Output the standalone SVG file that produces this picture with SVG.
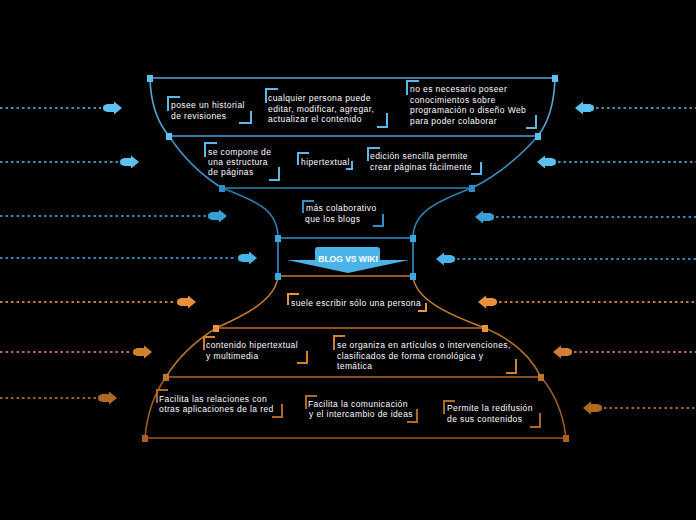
<svg xmlns="http://www.w3.org/2000/svg" xmlns:xlink="http://www.w3.org/1999/xlink" width="696" height="520" viewBox="0 0 696 520">
<style>
.t{fill:#ffffff;font-family:"Liberation Sans","DejaVu Sans",sans-serif;font-size:8.5px;letter-spacing:0.4px}
.b{fill:none;stroke-width:2}
.c{fill:none;stroke-width:1.6}
.d{fill:none;stroke-width:2;stroke-dasharray:2.5 3}
</style>
<defs>
<g id="arR"><circle cx="3.5" cy="0" r="3.5"/><path d="M3.5,-4 L11,-4 L11,-6.5 L19,0 L11,6.5 L11,4 L3.5,4 Z"/></g>
</defs>
<rect width="696" height="520" fill="#000000"/>
<g id="connectors">
<path class="c" stroke="#5aa6d0" d="M150,78 H555"/>
<path class="c" stroke="#5aa6d0" d="M150,78 Q151,115 169,136"/>
<path class="c" stroke="#5aa6d0" d="M555,78 Q554,115 538,136"/>
<path class="c" stroke="#4a9fd0" d="M169,136 H538"/>
<path class="c" stroke="#3d90c0" d="M169,136 Q190,168 222,188"/>
<path class="c" stroke="#3d90c0" d="M538,136 Q508,170 472,188"/>
<path class="c" stroke="#2e7fb0" d="M222,188 H472"/>
<path class="c" stroke="#2e7fb0" d="M222,188 C262,203 278,212 278,238"/>
<path class="c" stroke="#2e7fb0" d="M472,188 C432,203 413,214 413,238"/>
<path class="c" stroke="#3590c8" d="M278,238 H413 M278,238 V276 M413,238 V276"/>
<path class="c" stroke="#c47a30" d="M278,276 H413"/>
<path class="c" stroke="#c47a30" d="M278,276 C276,300 245,315 216,328"/>
<path class="c" stroke="#c47a30" d="M413,276 C415,300 450,315 485,328"/>
<path class="c" stroke="#b87028" d="M216,328 H485"/>
<path class="c" stroke="#b07028" d="M216,328 Q182,350 166,377"/>
<path class="c" stroke="#b07028" d="M485,328 Q525,345 541,377"/>
<path class="c" stroke="#a86a28" d="M166,377 H541"/>
<path class="c" stroke="#9a5e20" d="M166,377 Q148,402 145,438"/>
<path class="c" stroke="#9a5e20" d="M541,377 Q562,402 566,438"/>
<path class="c" stroke="#9a5e20" d="M145,438 H566"/>
<g id="squares">
<rect x="147" y="75" width="6" height="7" fill="#5cc0f0"/>
<rect x="552" y="75" width="6" height="7" fill="#5cc0f0"/>
<rect x="166" y="133" width="6" height="7" fill="#5cc0f0"/>
<rect x="535" y="133" width="6" height="7" fill="#5cc0f0"/>
<rect x="219" y="185" width="6" height="7" fill="#2f8fc4"/>
<rect x="469" y="185" width="6" height="7" fill="#2f8fc4"/>
<rect x="275" y="235" width="6" height="7" fill="#3aa8e0"/>
<rect x="410" y="235" width="6" height="7" fill="#3aa8e0"/>
<rect x="275" y="273" width="6" height="7" fill="#3aa8e0"/>
<rect x="410" y="273" width="6" height="7" fill="#3aa8e0"/>
<rect x="213" y="325" width="6" height="7" fill="#e8943a"/>
<rect x="482" y="325" width="6" height="7" fill="#e8943a"/>
<rect x="163" y="374" width="6" height="7" fill="#c07528"/>
<rect x="538" y="374" width="6" height="7" fill="#c07528"/>
<rect x="142" y="435" width="6" height="7" fill="#a85e1c"/>
<rect x="563" y="435" width="6" height="7" fill="#a85e1c"/>
</g>
<g id="side-arrows">
<path class="d" stroke="#3d8fb5" d="M0,108 H101"/>
<use xlink:href="#arR" transform="translate(103,108)" fill="#5cc0f0"/>
<path class="d" stroke="#3d8fb5" d="M596,108 H696"/>
<use xlink:href="#arR" transform="translate(594,108) scale(-1,1)" fill="#5cc0f0"/>
<path class="d" stroke="#3d8fb5" d="M0,162 H118"/>
<use xlink:href="#arR" transform="translate(120,162)" fill="#5cc0f0"/>
<path class="d" stroke="#3d8fb5" d="M558,162 H696"/>
<use xlink:href="#arR" transform="translate(556,162) scale(-1,1)" fill="#5cc0f0"/>
<path class="d" stroke="#2a86b8" d="M0,216 H206"/>
<use xlink:href="#arR" transform="translate(208,216)" fill="#38a0d8"/>
<path class="d" stroke="#2a86b8" d="M496,217 H696"/>
<use xlink:href="#arR" transform="translate(494,217) scale(-1,1)" fill="#38a0d8"/>
<path class="d" stroke="#2a86b8" d="M0,258 H236"/>
<use xlink:href="#arR" transform="translate(238,258)" fill="#4ab4e8"/>
<path class="d" stroke="#2a86b8" d="M457,259 H696"/>
<use xlink:href="#arR" transform="translate(455,259) scale(-1,1)" fill="#4ab4e8"/>
<path class="d" stroke="#c87a30" d="M0,302 H175"/>
<use xlink:href="#arR" transform="translate(177,302)" fill="#e8913a"/>
<path class="d" stroke="#c87a30" d="M499,302 H696"/>
<use xlink:href="#arR" transform="translate(497,302) scale(-1,1)" fill="#e8913a"/>
<path class="d" stroke="#b87030" d="M0,352 H131"/>
<use xlink:href="#arR" transform="translate(133,352)" fill="#d08030"/>
<path class="d" stroke="#b87030" d="M574,352 H696"/>
<use xlink:href="#arR" transform="translate(572,352) scale(-1,1)" fill="#d08030"/>
<path class="d" stroke="#a06020" d="M0,398 H96"/>
<use xlink:href="#arR" transform="translate(98,398)" fill="#b06a20"/>
<path class="d" stroke="#a06020" d="M604,408 H696"/>
<use xlink:href="#arR" transform="translate(602,408) scale(-1,1)" fill="#b06a20"/>
</g>
</g>
<g id="n-historial">
<path class="b" stroke="#5cb8e8" d="M168,111 V97 H180 M239,123 H251 V111"/>
<text class="t" x="171" y="108">posee un historial</text>
<text class="t" x="171" y="119">de revisiones</text>
</g>
<g id="n-cualquier">
<path class="b" stroke="#5cb8e8" d="M266,103 V89 H278 M377,127 H387 V113"/>
<text class="t" x="268" y="101">cualquier persona puede</text>
<text class="t" x="268" y="111.5">editar, modificar, agregar,</text>
<text class="t" x="268" y="122">actualizar el contenido</text>
</g>
<g id="n-noes">
<path class="b" stroke="#5cb8e8" d="M407,95 V81 H419 M526,128 H536 V115"/>
<text class="t" x="410" y="92">no es necesario poseer</text>
<text class="t" x="410" y="102.5">conocimientos sobre</text>
<text class="t" x="410" y="113">programación o diseño Web</text>
<text class="t" x="410" y="123.5">para poder colaborar</text>
</g>
<g id="n-compone">
<path class="b" stroke="#5cb8e8" d="M205,157 V143 H217 M269,180 H279 V167"/>
<text class="t" x="208" y="155">se compone de</text>
<text class="t" x="208" y="165">una estructura</text>
<text class="t" x="208" y="175">de páginas</text>
</g>
<g id="n-hipertextual">
<path class="b" stroke="#5cb8e8" d="M298,165 V153 H309 M346,169 H352 V161"/>
<text class="t" x="301" y="165">hipertextual</text>
</g>
<g id="n-edicion">
<path class="b" stroke="#5cb8e8" d="M368,161 V148 H380 M471,174 H481 V162"/>
<text class="t" x="370" y="159">edición sencilla permite</text>
<text class="t" x="370" y="170">crear páginas fácilmente</text>
</g>
<g id="n-colaborativo">
<path class="b" stroke="#2f8fc4" d="M303,213 V201 H314 M373,226 H383 V214"/>
<text class="t" x="306" y="211">más colaborativo</text>
<text class="t" x="305" y="222">que los blogs</text>
</g>
<g id="n-title">
<path fill="#4ab4e8" d="M315,250 Q315,247 318,247 L377,247 Q380,247 380,250 L380,260 L409,260 L348,273 L287,260 L315,260 Z"/>
<text x="348" y="262" text-anchor="middle" fill="#ffffff" font-family="Liberation Sans, DejaVu Sans, sans-serif" font-size="8.5" font-weight="bold">BLOG VS WIKI</text>
</g>
<g id="n-suele">
<path class="b" stroke="#e8943a" d="M288,305 V294 H299 M418,311 H426 V303"/>
<text class="t" x="291" y="306">suele escribir sólo una persona</text>
</g>
<g id="n-contenido">
<path class="b" stroke="#d08030" d="M204,350 V337 H215 M297,363 H307 V351"/>
<text class="t" x="206" y="348">contenido hipertextual</text>
<text class="t" x="206" y="359">y multimedia</text>
</g>
<g id="n-organiza">
<path class="b" stroke="#d08030" d="M334,350 V336 H345 M506,373 H516 V359"/>
<text class="t" x="337" y="348">se organiza en artículos o intervenciones,</text>
<text class="t" x="337" y="359">clasificados de forma cronológica y</text>
<text class="t" x="337" y="369">temática</text>
</g>
<g id="n-relaciones">
<path class="b" stroke="#b06a20" d="M157,403 V390 H168 M272,417 H282 V404"/>
<text class="t" x="159" y="402">Facilita las relaciones con</text>
<text class="t" x="159" y="412">otras aplicaciones de la red</text>
</g>
<g id="n-comunicacion">
<path class="b" stroke="#b06a20" d="M306,409 V396 H317 M407,422 H417 V409"/>
<text class="t" x="308" y="407">Facilita la comunicación</text>
<text class="t" x="309" y="417">y el intercambio de ideas</text>
</g>
<g id="n-redifusion">
<path class="b" stroke="#b06a20" d="M444,414 V401 H455 M530,427 H540 V413"/>
<text class="t" x="447" y="411">Permite la redifusión</text>
<text class="t" x="447" y="422">de sus contenidos</text>
</g>
</svg>
